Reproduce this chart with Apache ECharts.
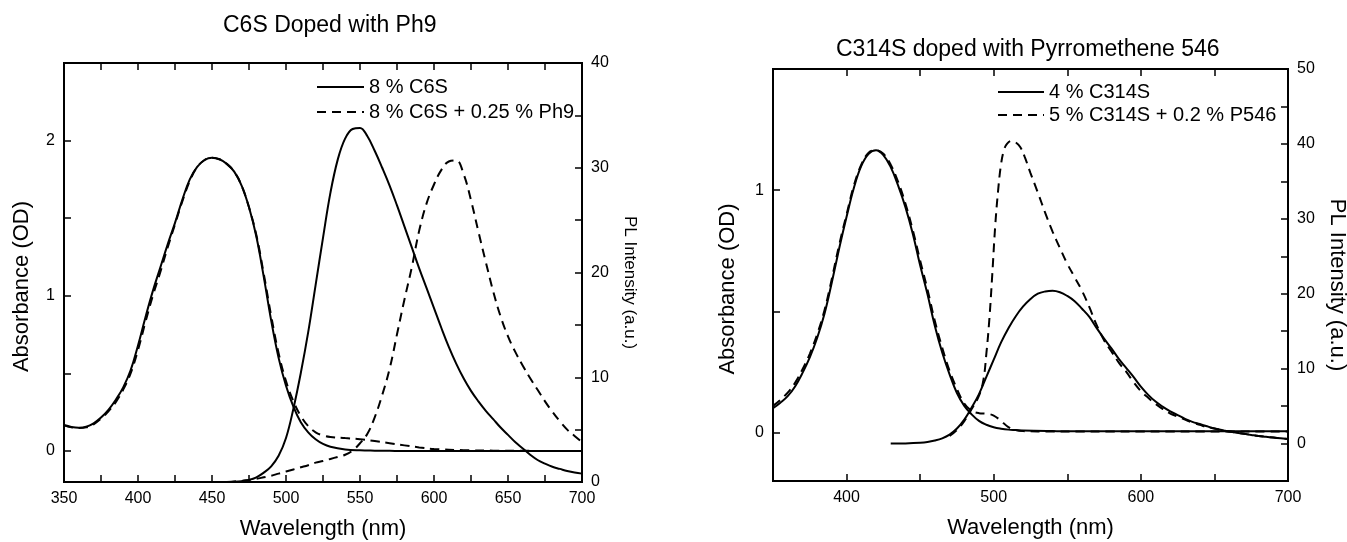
<!DOCTYPE html>
<html>
<head>
<meta charset="utf-8">
<script src="https://cdn.jsdelivr.net/npm/echarts@6/dist/echarts.min.js"></script>
<style>
  html, body { margin: 0; background: #fff; }
  #chart { width: 1347px; height: 542px; }
</style>
</head>
<body>
<div id="chart"></div>
<script>
// ---- left panel: C6S doped with Ph9 ----
var c6sAbsWl = [350,355,360,365,370,375,380,385,390,395,400,405,410,415,420,425,430,435,440,445,450,455,460,465,470,475,480,485,490,495,500,505,510,515,520,525,530,540,550,560,570,580,590,600,620,640,660,680,700];
var c6sAbs = [0.167,0.155,0.15,0.156,0.178,0.215,0.265,0.33,0.41,0.52,0.68,0.86,1.03,1.18,1.33,1.47,1.62,1.75,1.83,1.875,1.89,1.88,1.85,1.8,1.71,1.57,1.38,1.12,0.84,0.6,0.42,0.285,0.185,0.12,0.075,0.045,0.027,0.01,0.004,0.002,0.001,0,0,0,0,0,0,0,0];
var c6sPh9Abs = [0.165,0.152,0.148,0.152,0.172,0.208,0.255,0.315,0.395,0.5,0.65,0.83,1.0,1.15,1.31,1.46,1.61,1.74,1.83,1.875,1.89,1.88,1.85,1.8,1.71,1.57,1.39,1.14,0.87,0.63,0.45,0.32,0.225,0.16,0.12,0.1,0.09,0.083,0.076,0.064,0.05,0.036,0.023,0.013,0.005,0.002,0.001,0,0];
var c6sPlWl = [460,465,470,475,480,485,490,495,500,505,510,515,520,525,530,535,540,545,550,555,560,565,570,575,580,585,590,595,600,605,610,615,620,625,630,635,640,645,650,655,660,665,670,675,680,685,690,695,700];
var c6sPl = [0,0.02,0.08,0.2,0.45,0.9,1.5,2.5,4.2,7.0,10.4,14.3,18.8,23.3,27.6,30.8,32.8,33.7,33.8,33.0,31.6,30.0,28.3,26.4,24.4,22.4,20.4,18.5,16.6,14.7,12.9,11.3,9.9,8.7,7.7,6.8,6.0,5.2,4.5,3.8,3.2,2.6,2.1,1.75,1.45,1.25,1.05,0.9,0.8];
var c6sPh9Pl = [0,0.05,0.1,0.2,0.3,0.45,0.6,0.8,1.0,1.2,1.4,1.6,1.85,2.0,2.2,2.4,2.6,3.0,3.7,4.6,6.2,8.3,10.8,14.1,17.4,20.5,24.0,26.6,28.4,29.8,30.6,30.7,29.4,26.9,23.9,21.0,18.2,15.8,13.9,12.4,11.1,9.9,8.8,7.7,6.7,5.8,5.0,4.4,3.8];

// ---- right panel: C314S doped with Pyrromethene 546 ----
var c314sAbsWl = [350,355,360,365,370,375,380,385,390,395,400,405,410,415,420,425,430,435,440,445,450,455,460,465,470,475,480,485,490,495,500,505,510,515,520,540,560,580,600,620,640,660,680,700];
var c314sAbs = [0.1,0.123,0.15,0.19,0.245,0.31,0.39,0.49,0.62,0.76,0.89,1.01,1.1,1.15,1.165,1.145,1.095,1.02,0.93,0.82,0.69,0.57,0.44,0.33,0.24,0.163,0.11,0.075,0.048,0.032,0.022,0.016,0.012,0.01,0.008,0.006,0.005,0.005,0.005,0.005,0.005,0.005,0.005,0.005];
var c314sP546Abs = [0.11,0.135,0.165,0.205,0.26,0.325,0.405,0.505,0.635,0.775,0.9,1.02,1.105,1.155,1.165,1.15,1.105,1.035,0.945,0.835,0.71,0.59,0.46,0.35,0.255,0.18,0.12,0.09,0.08,0.078,0.07,0.048,0.022,0.01,0.006,0.004,0.004,0.004,0.004,0.004,0.004,0.004,0.004,0.004];
var c314sPlWl = [430,440,450,455,460,465,470,475,480,485,490,495,500,505,510,515,520,525,530,535,540,545,550,555,560,565,570,575,580,585,590,595,600,605,610,615,620,625,630,635,640,645,650,655,660,665,670,675,680,685,690,695,700];
var c314sPl = [0,0.02,0.1,0.2,0.4,0.7,1.2,2.0,3.2,4.8,6.6,8.9,11.2,13.5,15.4,17.0,18.3,19.3,20.0,20.3,20.4,20.2,19.7,19.0,18.0,16.9,15.4,14.0,12.7,11.3,10.1,8.9,7.6,6.5,5.6,4.9,4.3,3.8,3.3,2.9,2.6,2.3,2.0,1.8,1.6,1.45,1.3,1.15,1.0,0.9,0.8,0.7,0.6];
var c314sP546PlWl = [470,475,480,485,490,493,495,497,499,501,503,505,507,509,512,515,518,521,525,530,535,540,545,550,555,560,565,570,575,580,585,590,595,600,605,610,615,620,625,630,635,640,645,650,655,660,665,670,675,680,685,690,695,700];
var c314sP546Pl = [1.0,1.8,3.0,4.6,6.4,8.5,12,16.5,22.5,29,33.8,37.3,39.2,40.0,40.4,40.2,39.6,38.3,36.1,33.5,30.8,28.3,26.1,24.0,22.2,20.4,18.2,15.8,13.8,12.3,10.8,9.6,8.2,7.0,6.1,5.3,4.6,4.0,3.6,3.2,2.8,2.5,2.2,2.0,1.8,1.6,1.45,1.3,1.15,1.0,0.9,0.8,0.7,0.6];

var FONT = '"Liberation Sans", Arial, sans-serif';
var DASH = [9, 6];

function pairs(xs, ys) {
  return xs.map(function (x, i) { return [x, ys[i]]; });
}

function tickStyle() {
  return { show: true, inside: true, length: 7, lineStyle: { color: '#000', width: 1.5 } };
}

function xAxisFor(grid, interval, labelEvery, top) {
  var ax = {
    type: 'value', gridIndex: grid, min: 350, max: 700, interval: interval,
    position: top ? 'top' : 'bottom',
    axisLine: { show: true, onZero: false, lineStyle: { color: '#000', width: 2 } },
    axisTick: tickStyle(),
    splitLine: { show: false },
    axisLabel: {
      show: !top, color: '#000', fontSize: 16, fontFamily: FONT, margin: 9,
      formatter: function (v) { return v % labelEvery === 0 ? String(v) : ''; }
    }
  };
  if (!top) {
    ax.name = 'Wavelength (nm)';
    ax.nameLocation = 'middle';
    ax.nameGap = 36;
    ax.nameTextStyle = { color: '#000', fontSize: 22, fontFamily: FONT };
  }
  return ax;
}

function absAxis(grid, max, gap) {
  return {
    type: 'value', gridIndex: grid, position: 'left', min: -0.2, max: max,
    minInterval: 0.5, maxInterval: 0.5,
    axisLine: { show: true, onZero: false, lineStyle: { color: '#000', width: 2 } },
    axisTick: tickStyle(),
    splitLine: { show: false },
    axisLabel: {
      color: '#000', fontSize: 16, fontFamily: FONT, margin: 9,
      formatter: function (v) {
        if (Math.abs(v) < 1e-9) return '0';
        return Math.abs(v - Math.round(v)) < 1e-9 ? String(Math.round(v)) : '';
      }
    },
    name: 'Absorbance (OD)', nameLocation: 'middle', nameGap: gap,
    nameTextStyle: { color: '#000', fontSize: 22, fontFamily: FONT, padding: [0, 28, 0, 0] }
  };
}

function plAxis(grid, min, max, gap, size) {
  return {
    type: 'value', gridIndex: grid, position: 'right', min: min, max: max, interval: 5,
    axisLine: { show: true, onZero: false, lineStyle: { color: '#000', width: 2 } },
    axisTick: tickStyle(),
    splitLine: { show: false },
    axisLabel: {
      color: '#000', fontSize: 16, fontFamily: FONT, margin: 9,
      formatter: function (v) { return v % 10 === 0 ? String(v) : ''; }
    },
    name: 'PL Intensity (a.u.)', nameLocation: 'middle', nameGap: gap, nameRotate: -90,
    nameTextStyle: { color: '#000', fontSize: size, fontFamily: FONT, padding: [0, 0, 0, 20] }
  };
}

function line(name, xi, yi, data, dashed) {
  return {
    name: name, type: 'line', xAxisIndex: xi, yAxisIndex: yi,
    data: data, symbol: 'none', smooth: 0.4, clip: true,
    lineStyle: { color: '#000', width: 2, type: dashed ? DASH : 'solid' },
    itemStyle: { color: '#000' },
    emphasis: { disabled: true }
  };
}

var leftNames = ['8 % C6S', '8 % C6S + 0.25 % Ph9'];
var rightNames = ['4 % C314S', '5 % C314S + 0.2 % P546'];

function legendFor(names, left, top, width, gap) {
  return {
    data: names, orient: 'vertical', left: left, top: top, padding: 0,
    itemWidth: width, itemHeight: 14, itemGap: gap, selectedMode: false,
    itemStyle: { opacity: 0 },
    textStyle: { color: '#000', fontSize: 20, fontFamily: FONT }
  };
}

var chart = echarts.init(document.getElementById('chart'), null, { renderer: 'canvas' });
chart.setOption({
  animation: false,
  backgroundColor: '#fff',
  textStyle: { fontFamily: FONT },
  title: [
    { text: 'C6S Doped with Ph9', left: 218, top: 9,
      textStyle: { color: '#000', fontSize: 23, fontWeight: 'normal', fontFamily: FONT } },
    { text: 'C314S doped with Pyrromethene 546', left: 831, top: 33,
      textStyle: { color: '#000', fontSize: 23, fontWeight: 'normal', fontFamily: FONT } }
  ],
  legend: [
    legendFor(leftNames, 316, 77, 47, 5),
    legendFor(rightNames, 997, 82, 46, 3)
  ],
  grid: [
    { left: 64, right: 765, top: 63, bottom: 60, show: true, borderColor: '#000', borderWidth: 2,
      backgroundColor: 'transparent', outerBoundsMode: 'none' },
    { left: 773, right: 59, top: 69, bottom: 61, show: true, borderColor: '#000', borderWidth: 2,
      backgroundColor: 'transparent', outerBoundsMode: 'none' }
  ],
  xAxis: [
    xAxisFor(0, 25, 50, false),
    xAxisFor(0, 25, 50, true),
    xAxisFor(1, 50, 100, false),
    xAxisFor(1, 50, 100, true)
  ],
  yAxis: [
    absAxis(0, 2.5, 31),
    plAxis(0, 0, 40, 39, 17),
    absAxis(1, 1.5, 34),
    plAxis(1, -5, 50, 38, 22)
  ],
  series: [
    line(leftNames[0], 0, 0, pairs(c6sAbsWl, c6sAbs), false),
    line(leftNames[1], 0, 0, pairs(c6sAbsWl, c6sPh9Abs), true),
    line(leftNames[0], 0, 1, pairs(c6sPlWl, c6sPl), false),
    line(leftNames[1], 0, 1, pairs(c6sPlWl, c6sPh9Pl), true),
    line(rightNames[0], 2, 2, pairs(c314sAbsWl, c314sAbs), false),
    line(rightNames[1], 2, 2, pairs(c314sAbsWl, c314sP546Abs), true),
    line(rightNames[0], 2, 3, pairs(c314sPlWl, c314sPl), false),
    line(rightNames[1], 2, 3, pairs(c314sP546PlWl, c314sP546Pl), true)
  ]
});
</script>
</body>
</html>
